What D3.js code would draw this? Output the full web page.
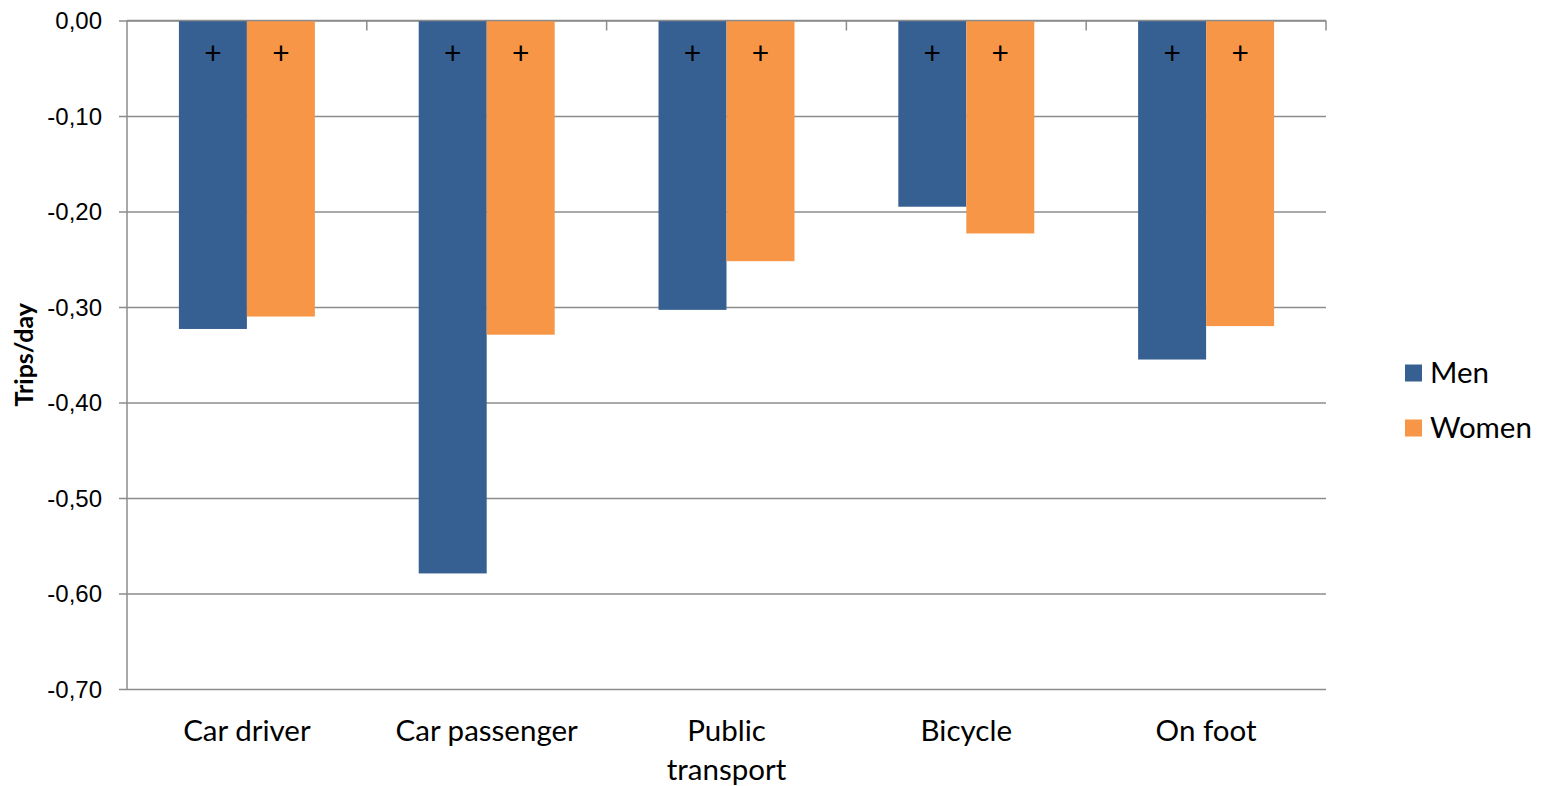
<!DOCTYPE html>
<html>
<head>
<meta charset="utf-8">
<script src="https://cdn.jsdelivr.net/npm/d3@7"></script>
<style>
  html, body { margin: 0; padding: 0; background: #fff; }
  svg { display: block; font-family: Lato, "Open Sans", sans-serif; }
</style>
</head>
<body>
<svg id="chart" width="1543" height="786"></svg>
<script>
// Change in trips per day by travel mode, men vs women
const categories = ["Car driver", "Car passenger", "Public transport", "Bicycle", "On foot"];
const series = ["Men", "Women"];
const menValues = [-0.323, -0.579, -0.303, -0.195, -0.355];
const womenValues = [-0.310, -0.329, -0.252, -0.223, -0.320];
const significance = ["+", "+", "+", "+", "+"]; // both sexes significant for every mode
const yTicks = [0, -0.1, -0.2, -0.3, -0.4, -0.5, -0.6, -0.7];
const yTitle = "Trips/day";

const colors = { Men: "#366092", Women: "#F79646" };
const gridColor = "#8c8c8c";

const svg = d3.select("#chart");
const plot = { left: 127, right: 1326, top: 20.5, bottom: 689 };

const y = d3.scaleLinear().domain([-0.7, 0]).range([plot.bottom, plot.top]);
const x0 = d3.scaleBand().domain(categories).range([plot.left, plot.right])
  .paddingInner(0.433).paddingOuter(0.2165);
const x1 = d3.scaleBand().domain(series).range([0, x0.bandwidth()]);

const rows = categories.map((c, i) => ({
  category: c,
  values: [
    { key: "Men", value: menValues[i], mark: significance[i] },
    { key: "Women", value: womenValues[i], mark: significance[i] }
  ]
}));

// Horizontal gridlines with short ticks left of the value axis
const span = plot.right - plot.left;
const yAxis = d3.axisLeft(y).tickValues(yTicks)
  .tickFormat(d => d3.format(".2f")(d).replace(".", ",").replace("−", "-"));
const yg = svg.append("g").attr("transform", `translate(${plot.right},0)`).call(yAxis);
yg.select(".domain").remove();
yg.selectAll(".tick line").attr("x1", 0).attr("x2", -span - 8)
  .attr("stroke", gridColor).attr("stroke-width", 1.5);
yg.selectAll(".tick text").attr("x", -span - 25)
  .attr("dy", "0.35em").attr("font-size", 24).attr("fill", "#000");

// Value axis line
svg.append("line")
  .attr("x1", plot.left).attr("x2", plot.left)
  .attr("y1", plot.top).attr("y2", plot.bottom)
  .attr("stroke", gridColor).attr("stroke-width", 1.5);

// Bars
const groups = svg.append("g").selectAll("g").data(rows).join("g")
  .attr("transform", d => `translate(${x0(d.category)},0)`);
groups.selectAll("rect").data(d => d.values).join("rect")
  .attr("x", d => x1(d.key))
  .attr("y", y(0))
  .attr("width", x1.bandwidth())
  .attr("height", d => y(d.value) - y(0))
  .attr("fill", d => colors[d.key]);

// Significance markers
groups.selectAll("text.sig").data(d => d.values).join("text")
  .attr("class", "sig")
  .attr("x", d => x1(d.key) + x1.bandwidth() / 2)
  .attr("y", y(0) + 33)
  .attr("dy", "0.35em")
  .attr("text-anchor", "middle")
  .attr("font-size", 30)
  .attr("fill", "#000")
  .text(d => d.mark);

// Category axis at zero with tick marks between categories
const xAxisLine = svg.append("g");
xAxisLine.append("line")
  .attr("x1", plot.left).attr("x2", plot.right)
  .attr("y1", y(0)).attr("y2", y(0))
  .attr("stroke", gridColor).attr("stroke-width", 1.5);
const boundaries = categories.map(c => x0(c) + x0.bandwidth() / 2 + x0.step() / 2);
xAxisLine.selectAll("line.tk").data(boundaries).join("line")
  .attr("class", "tk")
  .attr("x1", d => d).attr("x2", d => d)
  .attr("y1", y(0)).attr("y2", y(0) + 10)
  .attr("stroke", gridColor).attr("stroke-width", 1.5);

// Category labels below the plot (wrapped onto two lines where long)
const labelWrap = { "Public transport": ["Public", "transport"] };
const labels = svg.append("g").selectAll("text").data(categories).join("text")
  .attr("x", d => x0(d) + x0.bandwidth() / 2)
  .attr("y", plot.bottom + 52)
  .attr("text-anchor", "middle")
  .attr("font-size", 29.5)
  .attr("fill", "#000");
labels.each(function (d) {
  const lines = labelWrap[d] || [d];
  d3.select(this).selectAll("tspan").data(lines).join("tspan")
    .attr("x", x0(d) + x0.bandwidth() / 2)
    .attr("dy", (l, i) => i === 0 ? 0 : 39)
    .text(l => l);
});

// Axis title
svg.append("text")
  .attr("transform", `translate(33,${(plot.top + plot.bottom) / 2}) rotate(-90)`)
  .attr("text-anchor", "middle")
  .attr("font-size", 25)
  .attr("font-weight", "bold")
  .attr("fill", "#000")
  .text(yTitle);

// Legend
const legend = svg.append("g").attr("transform", "translate(1405,373)");
const li = legend.selectAll("g").data(series).join("g")
  .attr("transform", (d, i) => `translate(0,${i * 55})`);
li.append("rect").attr("x", 0).attr("y", -8.5).attr("width", 17).attr("height", 17)
  .attr("fill", d => colors[d]);
li.append("text").attr("x", 25).attr("y", 0).attr("dy", "0.35em")
  .attr("font-size", 29.5).attr("fill", "#000").text(d => d);
</script>
</body>
</html>
